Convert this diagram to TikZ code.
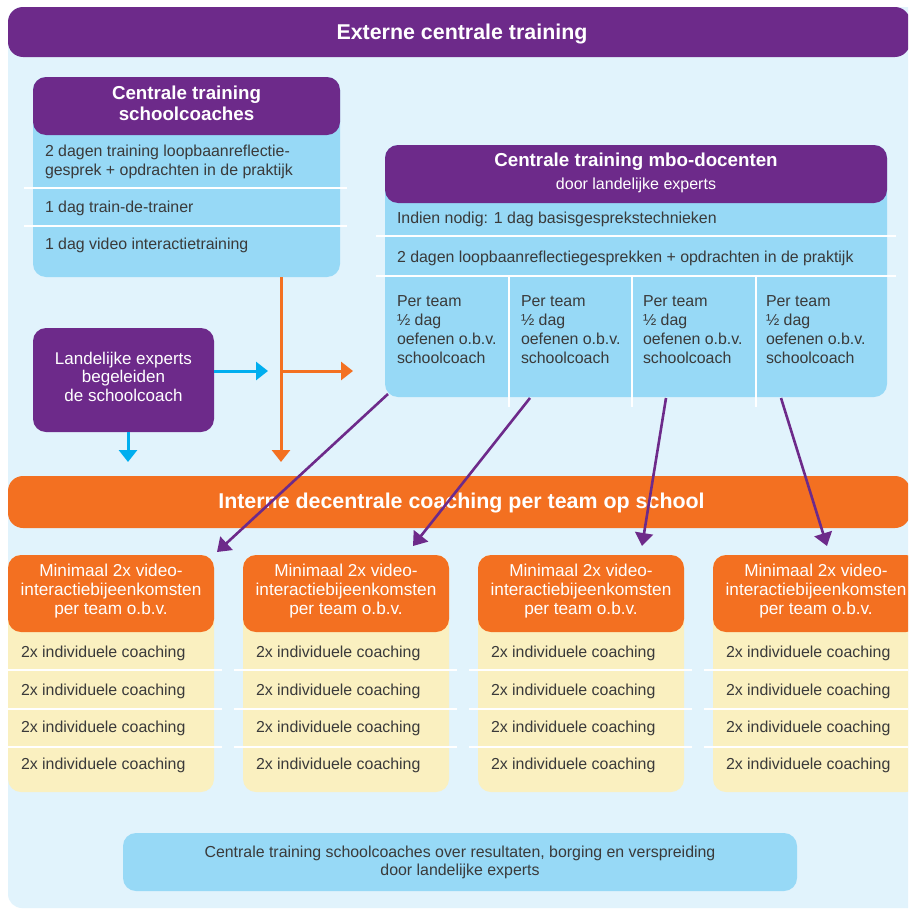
\documentclass[tikz,border=0pt]{standalone}
\usepackage{fontspec}
\setmainfont{Liberation Sans}
\usetikzlibrary{arrows.meta,calc}
\definecolor{panel}{HTML}{E1F3FC}
\definecolor{vpurple}{HTML}{6D2A8A}
\definecolor{lblue}{HTML}{97D9F6}
\definecolor{vorange}{HTML}{F37021}
\definecolor{lyellow}{HTML}{FAF0C0}
\definecolor{vcyan}{HTML}{00AEEF}
\definecolor{txt}{HTML}{3A3A3A}
\begin{document}
\begin{tikzpicture}[x=1pt,y=-1pt,
  every node/.style={inner sep=0pt, outer sep=0pt},
  box/.style={rectangle, rounded corners=13pt, draw=none},
  bodytxt/.style={font=\fontsize{15.9}{18.7}\selectfont, text=txt},
  bigtitle/.style={font=\fontsize{21.4}{24}\selectfont\bfseries, text=white},
  boxtitle/.style={font=\fontsize{18.75}{21}\selectfont\bfseries, text=white},
  subtitle/.style={font=\fontsize{16}{19}\selectfont, text=white},
  whitetxt/.style={font=\fontsize{17.2}{19}\selectfont, text=white},
  sepline/.style={white, line width=2.5pt},
  cyanarr/.style={vcyan, line width=3pt, -{Triangle[length=12pt,width=18pt]}},
  orline/.style={vorange, line width=3pt},
  orarr/.style={vorange, line width=3pt, -{Triangle[length=12pt,width=18pt]}},
  purarr/.style={vpurple, line width=2.6pt, -{Triangle[length=13pt,width=18pt]}}
]
\useasboundingbox (0,0) rectangle (908,910);
\clip (0,0) rectangle (908,910);
\fill[white] (0,0) rectangle (908,910);
\fill[panel, rounded corners=14pt] (8,7) rectangle (940,908);

% top header
\node[box, fill=vpurple, rounded corners=15pt, minimum width=902pt, minimum height=50pt] (hdr) at (459,32) {};
\node[bigtitle, anchor=base] (hdrt) at (462,39.5) {Externe centrale training};

% Centrale training schoolcoaches
\node[box, fill=lblue, minimum width=307pt, minimum height=200pt] (scb) at (186.5,177) {};
\node[box, fill=vpurple, minimum width=307pt, minimum height=58pt] (sch) at (186.5,106) {};
\node[boxtitle, anchor=base] (scht1) at (186.5,99.3) {Centrale training};
\node[boxtitle, anchor=base] (scht2) at (186.5,120.3) {schoolcoaches};
\draw[sepline] (24,188) -- (347,188);
\draw[sepline] (24,226) -- (347,226);
\node[bodytxt, anchor=base west] (sc1) at (45,156.8) {2 dagen training loopbaanreflectie-};
\node[bodytxt, anchor=base west] (sc2) at (45,175.5) {gesprek + opdrachten in de praktijk};
\node[bodytxt, anchor=base west] (sc3) at (45,212.3) {1 dag train-de-trainer};
\node[bodytxt, anchor=base west] (sc4) at (45,249.3) {1 dag video interactietraining};

% Centrale training mbo-docenten
\node[box, fill=lblue, minimum width=502pt, minimum height=252pt] (mbob) at (636,271) {};
\node[box, fill=vpurple, minimum width=502pt, minimum height=58pt] (mboh) at (636,174) {};
\node[boxtitle, anchor=base] (mboht1) at (636,166.7) {Centrale training mbo-docenten};
\node[subtitle, anchor=base] (mboht2) at (636,189) {door landelijke experts};
\draw[sepline] (376,236) -- (896,236);
\draw[sepline] (376,276) -- (896,276);
\foreach \xx in {509,632,756} \draw[sepline] (\xx,276) -- (\xx,407);
\node[bodytxt, anchor=base west] (mb1) at (397,223.5) {Indien nodig: 1 dag basisgesprekstechnieken};
\node[bodytxt, anchor=base west] (mb2) at (397,262) {2 dagen loopbaanreflectiegesprekken + opdrachten in de praktijk};
\foreach \xx [count=\i] in {397,521,643,766} {
  \node[bodytxt, anchor=base west] (pt\i a) at (\xx,306.8) {Per team};
  \node[bodytxt, anchor=base west] (pt\i b) at (\xx,325.6) {½ dag};
  \node[bodytxt, anchor=base west] (pt\i c) at (\xx,344.3) {oefenen o.b.v.};
  \node[bodytxt, anchor=base west] (pt\i d) at (\xx,363) {schoolcoach};
}

% Landelijke experts
\node[box, fill=vpurple, minimum width=181pt, minimum height=104pt] (land) at (123.5,380) {};
\node[whitetxt, font=\fontsize{17}{19}\selectfont, anchor=base] (land1) at (123.5,364.3) {Landelijke experts};
\node[whitetxt, font=\fontsize{17}{19}\selectfont, anchor=base] (land2) at (123.5,382.5) {begeleiden};
\node[whitetxt, font=\fontsize{17}{19}\selectfont, anchor=base] (land3) at (123.5,401) {de schoolcoach};

% connectors blue / orange
\coordinate (bt1) at (268,371);
\coordinate (bt2) at (128,462);
\coordinate (otop) at (281,277);
\coordinate (obot) at (281,462);
\coordinate (oj) at (281,371);
\coordinate (oend) at (353,371);
\draw[cyanarr] ($(land.east)+(0,-9)$) -- (bt1);
\draw[cyanarr] ($(land.south)+(4.5,0)$) -- (bt2);
\draw[orarr] (otop) -- (obot);
\draw[orarr] (oj) -- (oend);

% Interne bar
\node[box, fill=vorange, rounded corners=15pt, minimum width=902pt, minimum height=52pt] (bar) at (459,502) {};
\node[bigtitle, anchor=base] (bart) at (461.5,508.4) {Interne decentrale coaching per team op school};

% columns
\foreach \xo [count=\c] in {8,243,478,713} {
  \node[box, fill=lyellow, minimum width=206pt, minimum height=237pt] (colb\c) at (\xo+103,673.5) {};
  \node[box, fill=vorange, minimum width=206pt, minimum height=77pt] (colh\c) at (\xo+103,593.5) {};
  \node[whitetxt, anchor=base] (colt\c a) at (\xo+103,576) {Minimaal 2x video-};
  \node[whitetxt, anchor=base] (colt\c b) at (\xo+103,595) {interactiebijeenkomsten};
  \node[whitetxt, anchor=base] (colt\c c) at (\xo+103,614) {per team o.b.v.};
  \foreach \yy in {670,709,747} \draw[sepline] (\xo-9,\yy) -- (\xo+214,\yy);
  \foreach \yy [count=\r] in {657.3,695.3,732.7,769.7}
    \node[bodytxt, anchor=base west] (colr\c\r) at (\xo+13,\yy) {2x individuele coaching};
}

% purple arrows
\coordinate (ps1) at (388,394); \coordinate (pe1) at (217,552);
\coordinate (ps2) at (530,398); \coordinate (pe2) at (413,546);
\coordinate (ps3) at (666,398); \coordinate (pe3) at (642,546);
\coordinate (ps4) at (781,398); \coordinate (pe4) at (827,546);
\foreach \i in {1,2,3,4} \draw[purarr] (ps\i) -- (pe\i);

% bottom box
\node[box, fill=lblue, minimum width=674pt, minimum height=58pt] (fin) at (460,862) {};
\node[bodytxt, anchor=base] (fin1) at (460,857.3) {Centrale training schoolcoaches over resultaten, borging en verspreiding};
\node[bodytxt, anchor=base] (fin2) at (460,875) {door landelijke experts};
\end{tikzpicture}
\end{document}
